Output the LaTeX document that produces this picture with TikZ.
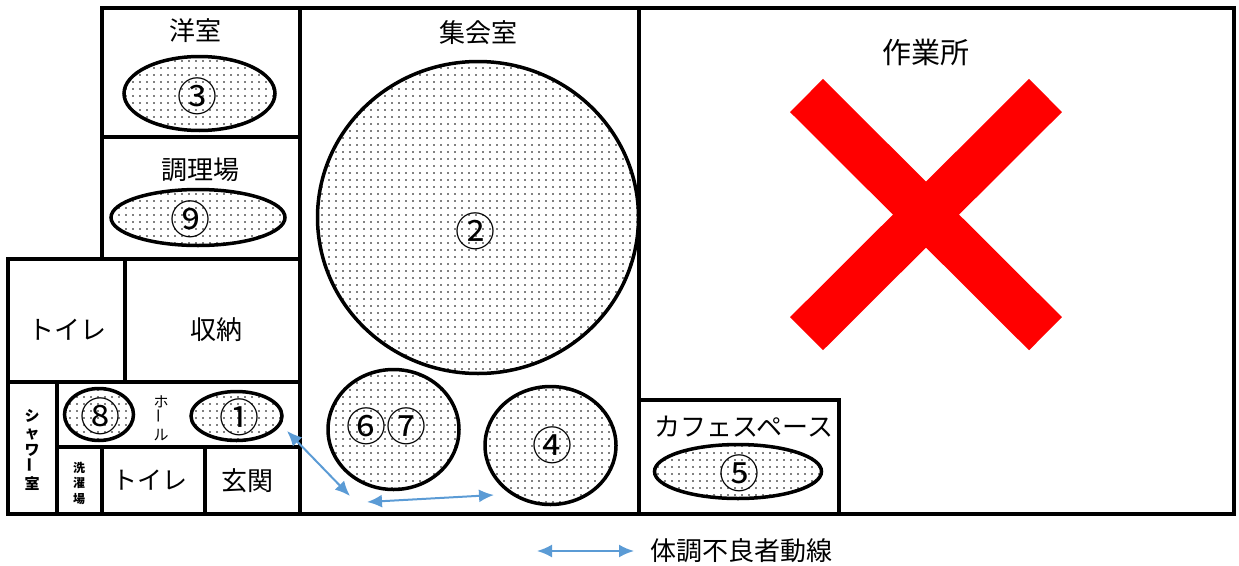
\documentclass[tikz,border=0pt]{standalone}
\usepackage{fontspec}
\setmainfont{Noto Sans CJK JP}
\usetikzlibrary{arrows.meta,shapes.geometric,patterns}
\definecolor{routeblue}{HTML}{5B9BD5}
\definecolor{crossred}{HTML}{FF0000}
\pgfdeclarepatternformonly{roomdots}{\pgfqpoint{-1pt}{-1pt}}{\pgfqpoint{1pt}{1pt}}{\pgfqpoint{7pt}{7pt}}{%
  \pgfpathcircle{\pgfqpoint{0pt}{0pt}}{0.85pt}\pgfusepath{fill}}

\begin{document}
\begin{tikzpicture}[x=1pt,y=-1pt,
    wall/.style={line width=3.5pt,line join=miter},
    zone/.style={ellipse,draw,line width=3.5pt,pattern=roomdots,inner sep=0pt},
    num/.style={inner sep=0pt,font=\fontsize{40}{40}\selectfont},
    roomname/.style={inner sep=0pt,font=\fontsize{26}{26}\selectfont},
    tate/.style={align=center,inner sep=0pt},
    route/.style={routeblue,line width=2pt,{Latex[length=15pt,width=13pt]}-{Latex[length=15pt,width=13pt]}}]
\useasboundingbox (0,0) rectangle (1239,565);
% walls
\draw[wall] (102,8) -- (1234,8) -- (1234,514) -- (8,514) -- (8,259) -- (102,259) -- cycle;
\draw[wall] (102,137) -- (300,137);
\draw[wall] (102,259) -- (300,259);
\draw[wall] (300,8) -- (300,514);
\draw[wall] (639,8) -- (639,514);
\draw[wall] (125,259) -- (125,382);
\draw[wall] (8,382) -- (300,382);
\draw[wall] (57,382) -- (57,514);
\draw[wall] (57,447) -- (300,447);
\draw[wall] (102,447) -- (102,514);
\draw[wall] (205,447) -- (205,514);
\draw[wall] (639,400) -- (839,400) -- (839,514);
% room names
\node[roomname] (yoshitsu) at (195,31) {洋室};
\node[roomname] (chorijo) at (200,170) {調理場};
\node[roomname] (shukai) at (478,33) {集会室};
\node[roomname,font=\fontsize{29}{29}\selectfont] (sagyosho) at (926,52) {作業所};
\node[roomname] (toireA) at (67,330) {トイレ};
\node[roomname] (shuno) at (216,330) {収納};
\node[roomname,font=\fontsize{25}{25}\selectfont] (toireB) at (150,480) {トイレ};
\node[roomname] (genkan) at (247,481) {玄関};
\node[roomname] (cafe) at (744,427) {カフェスペース};
\node[tate,font=\bfseries\fontsize{15}{17}\selectfont] (shower) at (32,450) {シ\\ャ\\ワ\\\rotatebox{90}{ー}\\室};
\node[tate,font=\fontsize{15}{16.5}\selectfont] (hall) at (161,418) {ホ\\\rotatebox{90}{ー}\\ル};
\node[tate,font=\bfseries\fontsize{12}{15.5}\selectfont] (sentaku) at (79,483) {洗\\濯\\場};
% zones
\node[zone,minimum width=151pt,minimum height=74pt] (z3) at (199.5,93.5) {};
\node[zone,minimum width=174pt,minimum height=56pt] (z9) at (198,217.5) {};
\node[zone,minimum width=321pt,minimum height=312pt] (z2) at (478,217.5) {};
\node[zone,minimum width=131pt,minimum height=120pt] (z67) at (393.5,429.5) {};
\node[zone,minimum width=131pt,minimum height=118pt] (z4) at (550.5,445.5) {};
\node[zone,minimum width=167pt,minimum height=54pt] (z5) at (738,471.5) {};
\node[zone,minimum width=69pt,minimum height=52pt] (z8) at (99,414.5) {};
\node[zone,minimum width=91pt,minimum height=49pt] (z1) at (236.5,416) {};
\node[num] (n3) at (197,96) {③};
\node[num] (n9) at (190,219) {⑨};
\node[num] (n2) at (475,231) {②};
\node[num] (n67) at (386,426) {⑥⑦};
\node[num] (n4) at (552,445) {④};
\node[num] (n5) at (739,473) {⑤};
\node[num] (n8) at (100,416) {⑧};
\node[num] (n1) at (239.5,417.5) {①};
% closed
\draw[crossred,line width=46.7pt] (806.5,95.5) -- (1045.5,333.7);
\draw[crossred,line width=46.7pt] (1045.5,95.5) -- (806.5,333.7);
% route
\coordinate (r1a) at (287,431);
\coordinate (r1b) at (350,496);
\coordinate (r2a) at (367,502);
\coordinate (r2b) at (494,495);
\draw[route] (r1a) -- (r1b);
\draw[route] (r2a) -- (r2b);
\coordinate (lga) at (537,551);
\coordinate (lgb) at (634,551);
\draw[route] (lga) -- (lgb);
\node[roomname] (legend) at (741,551) {体調不良者動線};
\end{tikzpicture}
\end{document}
